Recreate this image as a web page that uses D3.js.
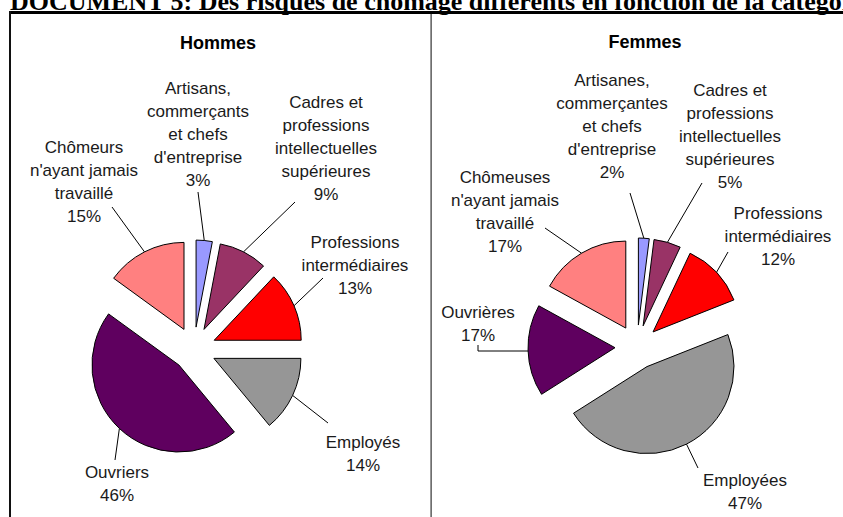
<!DOCTYPE html>
<html>
<head>
<meta charset="utf-8">
<script src="https://cdn.jsdelivr.net/npm/d3@7"></script>
<style>
  body { margin: 0; background: #fff; }
  svg { display: block; }
  .lbl { font-family: "Liberation Sans", Arial, sans-serif; font-size: 17px; fill: #1a1a1a; }
  .ttl { font-family: "Liberation Sans", Arial, sans-serif; font-size: 18px; font-weight: bold; fill: #000; }
</style>
</head>
<body>
<svg id="chart" width="843" height="517"></svg>
<script>
// data
const docTitle = 'DOCUMENT 5: Des risques de chômage différents en fonction de la catégorie socioprofessionnelle'
const panelTitles = ['Hommes', 'Femmes']

const labelsHommes = [
  ['Artisans,', 'commerçants', 'et chefs', "d'entreprise"],
  ['Cadres et', 'professions', 'intellectuelles', 'supérieures'],
  ['Professions', 'intermédiaires'],
  ['Employés'],
  ['Ouvriers'],
  ['Chômeurs', "n'ayant jamais", 'travaillé']
]
const valuesHommes = [3, 9, 13, 14, 46, 15]

const labelsFemmes = [
  ['Artisanes,', 'commerçantes', 'et chefs', "d'entreprise"],
  ['Cadres et', 'professions', 'intellectuelles', 'supérieures'],
  ['Professions', 'intermédiaires'],
  ['Employées'],
  ['Ouvrières'],
  ['Chômeuses', "n'ayant jamais", 'travaillé']
]
const valuesFemmes = [2, 5, 12, 47, 17, 17]

const sliceColors = ['#9999ff', '#993366', '#ff0000', '#969696', '#5f005f', '#ff8080']

// layout (label anchor = centre x, first baseline y ; leader start point)
const layoutHommes = {
  cx: 194, cy: 349, titleX: 218, titleY: 49,
  labels: [[198, 94], [326, 108], [355, 248], [363, 448], [117, 478], [84, 153]],
  leaders: [[[198, 192]], [[295, 202]], [[323, 278]], [[328, 423]], [[115, 460]], [[112, 207]]]
}
const layoutFemmes = {
  cx: 637, cy: 347, titleX: 645, titleY: 48,
  labels: [[612, 86], [730, 96], [778, 219], [745, 486], [478, 318], [505, 183]],
  leaders: [[[630, 193]], [[702, 183]], [[728, 252]], [[698, 468]], [[478, 345], [478, 351]], [[545, 228]]]
}

const radius = 87
const explode = 22
const lineH = 23

const svg = d3.select('#chart')

// document title (clipped by the top edge, as in the scan)
svg.append('text')
  .attr('x', 10)
  .attr('y', 9.5)
  .style('font-family', '"Liberation Serif", "Times New Roman", serif')
  .style('font-weight', 'bold')
  .style('font-size', '26px')
  .text(docTitle)

// frame
svg.append('rect').attr('x', 9).attr('y', 11).attr('width', 834).attr('height', 3).attr('fill', '#000')
svg.append('rect').attr('x', 9).attr('y', 11).attr('width', 2).attr('height', 506).attr('fill', '#111')
svg.append('rect').attr('x', 430.5).attr('y', 14).attr('width', 1.2).attr('height', 503).attr('fill', '#333')

const pie = d3.pie().sort(null).value(d => d)
const arc = d3.arc().innerRadius(0).outerRadius(radius)

function drawPie (values, labels, layout, title) {
  const g = svg.append('g')
  const arcs = pie(values)

  g.append('text')
    .attr('class', 'ttl')
    .attr('x', layout.titleX)
    .attr('y', layout.titleY)
    .attr('text-anchor', 'middle')
    .text(title)

  const offset = (d) => {
    const mid = (d.startAngle + d.endAngle) / 2
    return [layout.cx + explode * Math.sin(mid), layout.cy - explode * Math.cos(mid)]
  }

  g.selectAll('path.slice')
    .data(arcs)
    .enter()
    .append('path')
    .attr('class', 'slice')
    .attr('transform', d => `translate(${offset(d)})`)
    .attr('d', arc)
    .attr('fill', (d, i) => sliceColors[i])
    .attr('stroke', '#000')
    .attr('stroke-width', 1)
    .attr('stroke-linejoin', 'round')

  // leader lines: from label side to the middle of the slice's arc
  g.selectAll('path.leader')
    .data(arcs)
    .enter()
    .append('path')
    .attr('class', 'leader')
    .attr('d', (d, i) => {
      const mid = (d.startAngle + d.endAngle) / 2
      const o = offset(d)
      const end = [o[0] + radius * Math.sin(mid), o[1] - radius * Math.cos(mid)]
      const pts = layout.leaders[i].slice()
      if (pts.length > 1) end[1] = pts[pts.length - 1][1]
      pts.push(end)
      return d3.line()(pts)
    })
    .attr('fill', 'none')
    .attr('stroke', '#000')
    .attr('stroke-width', 1)

  // labels
  const lbl = g.selectAll('text.lbl')
    .data(arcs)
    .enter()
    .append('text')
    .attr('class', 'lbl')
    .attr('text-anchor', 'middle')

  lbl.each(function (d, i) {
    const lines = labels[i].concat([d.data + '%'])
    const [x, y] = layout.labels[i]
    d3.select(this).selectAll('tspan')
      .data(lines)
      .enter()
      .append('tspan')
      .attr('x', x)
      .attr('y', (t, j) => y + j * lineH)
      .text(t => t)
  })
}

drawPie(valuesHommes, labelsHommes, layoutHommes, panelTitles[0])
drawPie(valuesFemmes, labelsFemmes, layoutFemmes, panelTitles[1])
</script>
</body>
</html>
